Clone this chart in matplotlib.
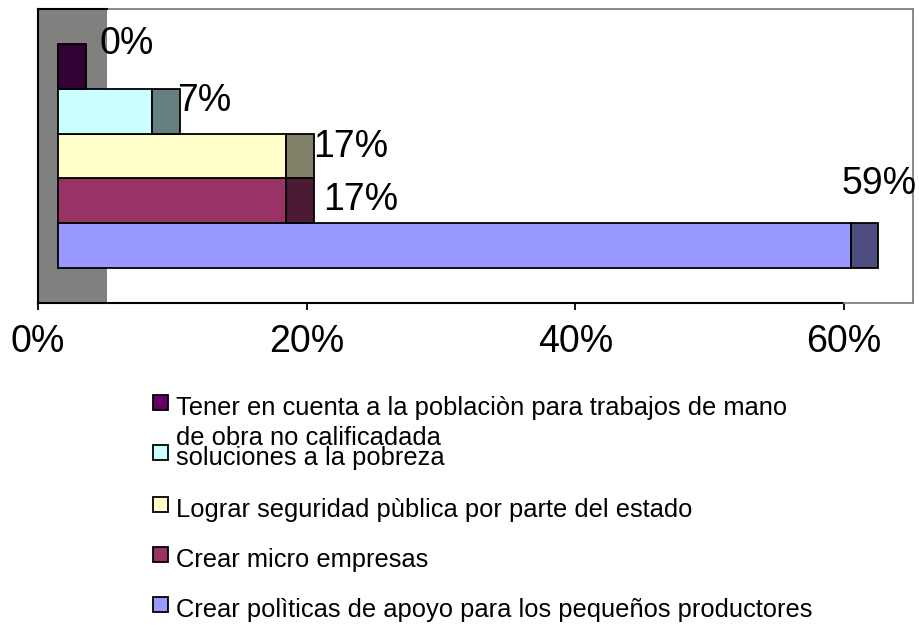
import matplotlib
matplotlib.use("Agg")
import matplotlib.pyplot as plt
from matplotlib.patches import Rectangle
import numpy as np

plt.rcParams['font.family'] = ['Liberation Sans', 'DejaVu Sans']

# data (bottom to top, as drawn)
categories = ["Crear polìticas de apoyo para los pequeños productores",
              "Crear micro empresas",
              "Lograr seguridad pùblica por parte del estado",
              "soluciones a la pobreza",
              "Tener en cuenta a la poblaciòn para trabajos de mano\nde obra no calificadada"]
values = [59, 17, 17, 7, 0]
value_labels = ["59%", "17%", "17%", "7%", "0%"]
tick_vals = [0, 20, 40, 60]
tick_labels = ["0%", "20%", "40%", "60%"]

front_colors = ["#9999FF", "#993366", "#FFFFCC", "#CCFFFF", "#660066"]

W, H = 919, 625
fig = plt.figure(figsize=(W / 100, H / 100), dpi=100)
ax = fig.add_axes([38 / W, 1 - 303 / H, (913 - 38) / W, (303 - 9) / H])

xmax = (913 - 38) / ((844 - 38) / 60.0)
ax.set_xlim(0, xmax)
ax.set_ylim(-1.27, 5.27)

offset = 1.49   # 3d shift of the bars' front face
depth = 2.05    # visible depth of the bars
wall = 5.14

# grey side wall
ax.add_patch(Rectangle((0, -1.27), wall, 6.54, facecolor="#808080",
                       edgecolor="none", zorder=0))
ax.plot([0, wall], [5.27, 5.27], color="black", lw=1.5, clip_on=False, zorder=3)

# label offsets in pixels (dx from bar end, dy from bar centre)
lab_off = [(-37, 62), (9, 1), (-1, 9), (-2, 10), (14, 22)]

for i, v in enumerate(values):
    fc = np.array(matplotlib.colors.to_rgb(front_colors[i]))
    side = fc * 0.5
    ax.barh(i, v, left=offset, height=1.0, color=fc, edgecolor="black",
            linewidth=1.3, zorder=2)
    ax.barh(i, depth, left=offset + v, height=1.0, color=side,
            edgecolor="black", linewidth=1.3, zorder=2)
    dx, dy = lab_off[i]
    ax.annotate(value_labels[i], (offset + v + depth, i), xytext=(dx, dy),
                textcoords="offset pixels", fontsize=27, va="center",
                ha="left", zorder=4)

ax.set_xticks(tick_vals)
ax.set_xticklabels(tick_labels, fontsize=27)
ax.set_yticks([])
ax.tick_params(axis="x", length=5, width=1.3, pad=10, direction="out")

for s in ["top", "right"]:
    ax.spines[s].set_color("#808080")
    ax.spines[s].set_linewidth(1.3)
ax.spines["left"].set_color("black")
ax.spines["left"].set_linewidth(1.5)
ax.spines["bottom"].set_color("black")
ax.spines["bottom"].set_linewidth(1.5)
ax.spines["bottom"].set_bounds(0, 60)
ax.plot([60, xmax], [-1.27, -1.27], color="#808080", lw=1.3, clip_on=False, zorder=3)

# legend, drawn by hand (top entry first)
leg_base = [415, 465, 517, 567, 617]
leg_names = categories[::-1]
leg_colors = front_colors[::-1]
for k in range(len(leg_names)):
    yb = leg_base[k]
    fig.add_artist(Rectangle((153 / W, 1 - (yb - 5) / H), 15 / W, 15 / H,
                             transform=fig.transFigure, facecolor=leg_colors[k],
                             edgecolor="black", linewidth=1.3))
    lines = leg_names[k].split("\n")
    fig.text(176 / W, 1 - yb / H, lines[0], fontsize=18.4, va="baseline", ha="left")
    if len(lines) > 1:
        fig.text(176 / W, 1 - (yb + 30) / H, lines[1], fontsize=18.4,
                 va="baseline", ha="left")

fig.savefig("out.png", dpi=100)
